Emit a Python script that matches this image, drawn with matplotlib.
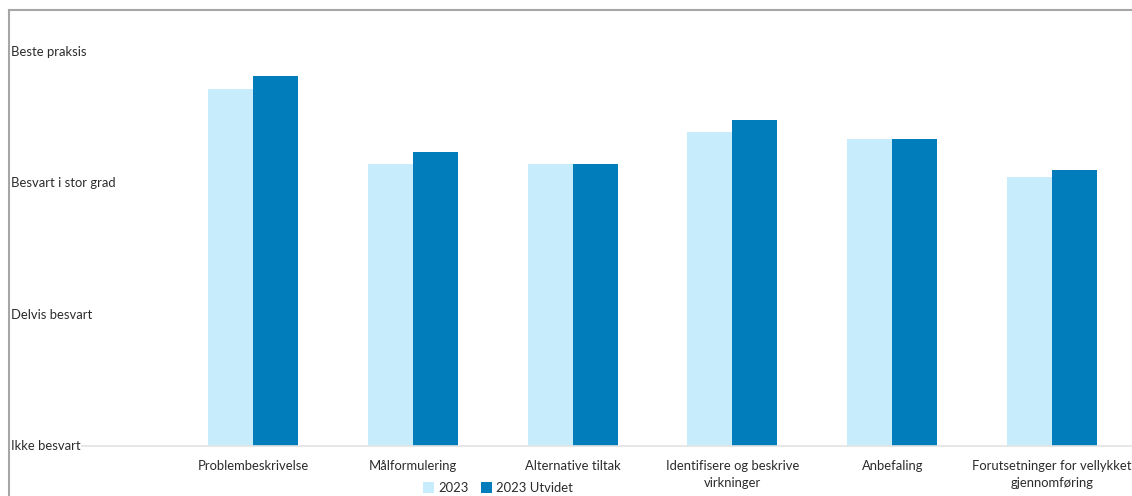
import matplotlib
matplotlib.use("Agg")
import matplotlib.pyplot as plt
from matplotlib.lines import Line2D
from matplotlib.patches import Patch
import matplotlib.transforms as mtrans
import numpy as np

categories = ["Problembeskrivelse", "Målformulering", "Alternative tiltak",
              "Identifisere og beskrive\nvirkninger", "Anbefaling",
              "Forutsetninger for vellykket\ngjennomføring"]
values_2023 = [2.72, 2.15, 2.15, 2.39, 2.34, 2.05]
values_2023_utvidet = [2.82, 2.24, 2.15, 2.48, 2.34, 2.10]
series_names = ["2023", "2023 Utvidet"]
y_tick_labels = ["Ikke besvart", "Delvis besvart", "Besvart i stor grad", "Beste praksis"]

plt.rcParams['font.family'] = ['Lato', 'DejaVu Sans']
W, H = 1132, 496
fig = plt.figure(figsize=(W / 100, H / 100), dpi=100)

def fx(px):
    return px / W

def fy(py):
    return 1 - py / H

left_px, right_px, top_px, bottom_px = 173, 1132, 52, 446
ax = fig.add_axes([fx(left_px), fy(bottom_px), fx(right_px - left_px), fy(top_px) - fy(bottom_px)])

light = "#c7ecfc"
dark = "#007dba"
txt = "#2b2b2b"
fs = 9.4
x = np.arange(len(categories))
bw = 45 / 160
ax.bar(x - bw / 2, values_2023, width=bw, color=light, clip_on=False, zorder=2)
ax.bar(x + bw / 2, values_2023_utvidet, width=bw, color=dark, clip_on=False, zorder=2)

ax.set_xlim(-0.5, len(categories) - 0.5)
ax.set_ylim(0, 3)
for s in ax.spines.values():
    s.set_visible(False)
ax.set_yticks([])
ax.set_xticks(x)
ax.set_xticklabels(categories, fontsize=fs, color=txt, linespacing=1.5)
ax.tick_params(axis='x', length=0, pad=10)

trans = mtrans.blended_transform_factory(fig.transFigure, ax.transData)
for i, lab in enumerate(y_tick_labels):
    ax.text(fx(11), i, lab, transform=trans, ha='left', va='center',
            fontsize=fs, color=txt)

fig.add_artist(Line2D([fx(82), 1.0], [fy(446), fy(446)], color="#e3e3e3", lw=1.2, zorder=1))
fig.add_artist(Line2D([fx(9), fx(9)], [fy(10), 0], color="#a6a6a6", lw=1.5))
fig.add_artist(Line2D([fx(9), 1.0], [fy(10), fy(10)], color="#a6a6a6", lw=1.5))

handles = [Patch(facecolor=light, label=series_names[0]),
           Patch(facecolor=dark, label=series_names[1])]
fig.legend(handles=handles, loc='center', bbox_to_anchor=(fx(498), fy(488)),
           ncol=2, frameon=False, fontsize=fs, handlelength=0.85, handleheight=0.85,
           handletextpad=0.3, columnspacing=1.0, labelcolor=txt)

fig.savefig("out.png", dpi=100)
